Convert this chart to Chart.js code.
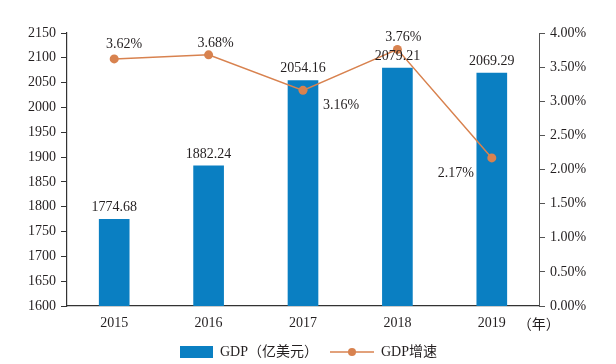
<!DOCTYPE html>
<html>
<head>
<meta charset="utf-8">
<script src="https://cdn.jsdelivr.net/npm/chart.js@4/dist/chart.umd.min.js"></script>
<style>
  body { margin: 0; background: #fff; }
</style>
</head>
<body>
<canvas id="chart" width="616" height="364"></canvas>
<script>
const years = ['2015', '2016', '2017', '2018', '2019'];
const gdp = [1774.68, 1882.24, 2054.16, 2079.21, 2069.29];
const growth = [3.62, 3.68, 3.16, 3.76, 2.17];

const font = '"Liberation Serif", "Noto Sans CJK SC", serif';
const blue = '#0a7fc2';
const orange = '#d8824f';
const textColor = '#231f20';

// where each growth label sits relative to its point
const growthOffsets = [[10, -15], [7, -12], [38, 15], [6, -12], [-36, 15]];

function legendIcon(kind) {
    const c = document.createElement('canvas');
    c.width = 44;
    c.height = 12;
    const g = c.getContext('2d');
    if (kind === 'bar') {
        g.fillStyle = blue;
        g.fillRect(11, 0, 33, 12);
    } else {
        g.strokeStyle = orange;
        g.lineWidth = 1.5;
        g.beginPath();
        g.moveTo(0, 6);
        g.lineTo(44, 6);
        g.stroke();
        g.fillStyle = orange;
        g.beginPath();
        g.arc(22, 6, 4, 0, Math.PI * 2);
        g.fill();
    }
    return c;
}
const icons = [legendIcon('bar'), legendIcon('line')];

const valueLabels = {
    id: 'valueLabels',
    afterDatasetsDraw(chart) {
        const ctx = chart.ctx;
        ctx.save();
        ctx.font = '14px ' + font;
        ctx.fillStyle = textColor;
        ctx.textAlign = 'center';
        ctx.textBaseline = 'middle';
        chart.getDatasetMeta(0).data.forEach((bar, i) => {
            ctx.fillText(gdp[i].toFixed(2), bar.x, bar.y - 12);
        });
        chart.getDatasetMeta(1).data.forEach((pt, i) => {
            const o = growthOffsets[i];
            ctx.fillText(growth[i].toFixed(2) + '%', pt.x + o[0], pt.y + o[1]);
        });
        // unit after the year ticks
        const xs = chart.scales.x;
        const last = xs.getPixelForValue(years.length - 1);
        ctx.font = '14px "Noto Sans CJK SC", ' + font;
        ctx.fillText('（年）', last + 47, xs.top + 18);
        ctx.restore();
    }
};

new Chart(document.getElementById('chart'), {
    data: {
        labels: years,
        datasets: [
            {
                type: 'bar',
                label: 'GDP（亿美元）',
                data: gdp,
                backgroundColor: blue,
                barThickness: 30,
                yAxisID: 'y',
                order: 2
            },
            {
                type: 'line',
                label: 'GDP增速',
                data: growth,
                borderColor: orange,
                backgroundColor: orange,
                borderWidth: 1.5,
                pointStyle: 'circle',
                pointRadius: 4.5,
                pointBackgroundColor: orange,
                pointBorderWidth: 0,
                yAxisID: 'y1',
                order: 1
            }
        ]
    },
    options: {
        responsive: false,
        animation: false,
        layout: { padding: { top: 33, bottom: -5 } },
        scales: {
            x: {
                offset: true,
                grid: { display: false, drawTicks: false },
                border: { color: '#333', width: 1.2 },
                ticks: { color: textColor, font: { family: font, size: 14 }, padding: 9 },
                afterFit(s) { s.height = 27; }
            },
            y: {
                position: 'left',
                min: 1600,
                max: 2150,
                grid: { drawOnChartArea: false, tickLength: 6, color: '#333' },
                border: { color: '#333', width: 1.2 },
                ticks: {
                    stepSize: 50,
                    color: textColor,
                    font: { family: font, size: 14 },
                    padding: 5,
                    callback: v => String(v)
                },
                afterFit(s) { s.width = 67; }
            },
            y1: {
                position: 'right',
                min: 0,
                max: 4,
                grid: { drawOnChartArea: false, tickLength: 6, color: '#555' },
                border: { color: '#555', width: 1 },
                ticks: {
                    stepSize: 0.5,
                    color: textColor,
                    font: { family: font, size: 14 },
                    padding: 5,
                    callback: v => v.toFixed(2) + '%'
                },
                afterFit(s) { s.width = 77; }
            }
        },
        plugins: {
            legend: {
                position: 'bottom',
                fullSize: false,
                labels: {
                    usePointStyle: true,
                    pointStyleWidth: 44,
                    boxHeight: 12,
                    padding: 12,
                    color: textColor,
                    font: { family: font, size: 14 },
                    sort: (a, b) => a.datasetIndex - b.datasetIndex,
                    generateLabels(chart) {
                        const items = Chart.defaults.plugins.legend.labels.generateLabels(chart);
                        items.forEach(it => { it.pointStyle = icons[it.datasetIndex]; });
                        return items;
                    }
                }
            },
            tooltip: { enabled: false }
        }
    },
    plugins: [valueLabels]
});
</script>
</body>
</html>
